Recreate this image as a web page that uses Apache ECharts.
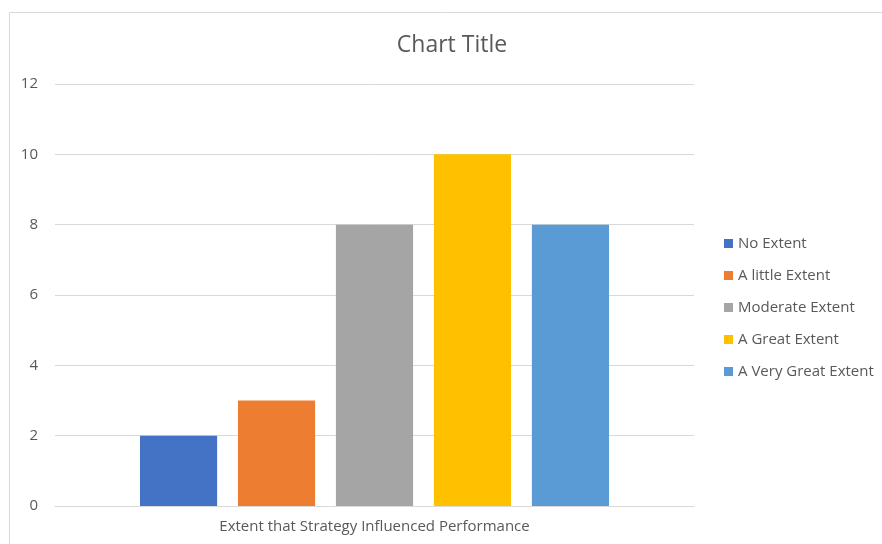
<!DOCTYPE html>
<html>
<head>
<meta charset="utf-8">
<title>Chart Title</title>
<script src="https://cdn.jsdelivr.net/npm/echarts@6/dist/echarts.min.js"></script>
<style>
  html, body { margin: 0; padding: 0; background: #fff; }
  #chart { width: 882px; height: 544px; }
</style>
</head>
<body>
<div id="chart"></div>
<script>
// data
var categories = ['Extent that Strategy Influenced Performance'];
var seriesNames = ['No Extent', 'A little Extent', 'Moderate Extent', 'A Great Extent', 'A Very Great Extent'];
var seriesValues = [2, 3, 8, 10, 8];
var seriesColors = ['#4472C4', '#ED7D31', '#A5A5A5', '#FFC000', '#5B9BD5'];

var myChart = echarts.init(document.getElementById('chart'));

var series = [];
for (var i = 0; i < seriesNames.length; i++) {
    series.push({
        name: seriesNames[i],
        type: 'bar',
        data: [seriesValues[i]],
        itemStyle: { color: seriesColors[i] },
        barGap: '27%',
        barCategoryGap: '26.6%'
    });
}

var textColor = '#595959';
var font = 'Open Sans';

var option = {
    animation: false,
    textStyle: { fontFamily: font },
    title: {
        text: 'Chart Title',
        left: 447,
        textAlign: 'center',
        top: 29,
        textStyle: { fontFamily: font, fontSize: 23, fontWeight: 'normal', color: textColor }
    },
    // chart area border like the Excel frame
    graphic: [{
        type: 'rect',
        shape: { x: 9.5, y: 12.5, width: 900, height: 600 },
        style: { fill: 'none', stroke: '#d9d9d9', lineWidth: 1 },
        silent: true
    }],
    legend: {
        orient: 'vertical',
        left: 719,
        top: 231,
        itemWidth: 9,
        itemHeight: 9,
        itemGap: 17,
        icon: 'rect',
        textStyle: { fontFamily: font, fontSize: 15, color: textColor },
        data: seriesNames
    },
    grid: { left: 55, right: 188, top: 84, bottom: 38, containLabel: false },
    xAxis: {
        type: 'category',
        data: categories,
        axisLine: { lineStyle: { color: '#d9d9d9', width: 1 } },
        axisTick: { show: false },
        axisLabel: { color: textColor, fontSize: 15, fontFamily: font, margin: 13 }
    },
    yAxis: {
        type: 'value',
        min: 0,
        max: 12,
        interval: 2,
        axisLine: { show: false },
        axisTick: { show: false },
        splitLine: { lineStyle: { color: '#d9d9d9', width: 1 } },
        axisLabel: { color: textColor, fontSize: 15, fontFamily: font, margin: 17 }
    },
    series: series
};

myChart.setOption(option);
window.addEventListener('resize', myChart.resize);
</script>
</body>
</html>
